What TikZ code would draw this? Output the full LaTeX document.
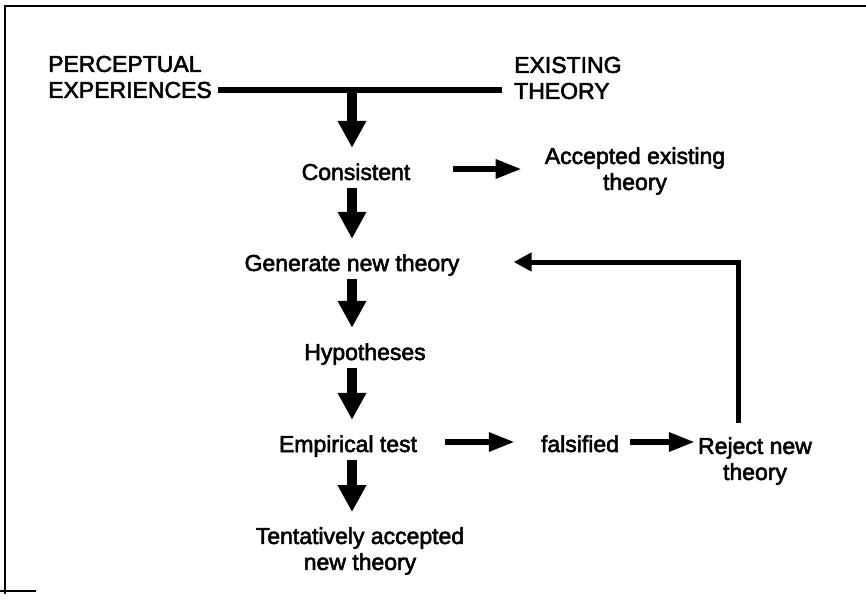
\documentclass[tikz,border=0pt]{standalone}
\usepackage{fontspec}
\setmainfont{Liberation Sans}[FakeBold=2.5]
\usetikzlibrary{arrows.meta}

\begin{document}
\begin{tikzpicture}[x=1pt, y=-1pt,
    lbl/.style={font=\fontsize{23}{26}\selectfont, inner sep=0pt, text height=17pt, text depth=5pt},
    lbl2/.style={font=\fontsize{23}{26}\selectfont, inner sep=0pt, align=center},
    dnarrow/.style={-{Triangle[length=27pt, width=27pt]}, line width=10pt, shorten <=3pt, shorten >=15pt},
    rtarrow/.style={-{Triangle[length=26pt, width=18pt]}, line width=6pt},
    backarrow/.style={-{Triangle[length=18pt, width=18pt]}, line width=5pt}]
    \useasboundingbox (0,0) rectangle (866,599);
    \draw[line width=2pt] (5,594) -- (5,6) -- (866,6);
    \draw[line width=1.5pt] (0,591) -- (36,591);

    \node[lbl2, anchor=west, align=left] (percep) at (48,77) {PERCEPTUAL\\EXPERIENCES};
    \node[lbl2, anchor=west, align=left] (exist) at (514,78) {EXISTING\\THEORY};
    \coordinate (barL) at (218,90);
    \coordinate (barR) at (502,90);
    \coordinate (barM) at (352,90);
    \node[lbl] (consist) at (356,174) {Consistent};
    \node[lbl2] (accept) at (635,171) {Accepted existing\\theory};
    \node[lbl] (gen) at (352,265) {Generate new theory};
    \node[lbl] (hyp) at (365,354) {Hypotheses};
    \node[lbl] (emp) at (348,446) {Empirical test};
    \node[lbl] (fals) at (580,446) {falsified};
    \node[lbl2] (reject) at (755,461) {Reject new\\theory};
    \node[lbl2] (tent) at (360,551) {Tentatively accepted\\new theory};

    \draw[line width=6pt] (barL) -- (barR);
    \draw[dnarrow] (barM) -- (consist.north -| barM);
    \draw[dnarrow] (consist.south -| barM) -- (gen.north -| barM);
    \draw[dnarrow] (gen.south -| barM) -- (hyp.north -| barM);
    \draw[dnarrow] (hyp.south -| barM) -- (emp.north -| barM);
    \draw[dnarrow] (emp.south -| barM) -- (tent.north -| barM);
    \draw[rtarrow, shorten <=42pt, shorten >=23pt] ([yshift=5pt]consist.east) -- ([yshift=5pt]consist.east -| accept.west);
    \draw[rtarrow, shorten <=28pt, shorten >=26pt] ([yshift=4pt]emp.east) -- ([yshift=4pt]fals.west);
    \draw[rtarrow, shorten <=11pt, shorten >=3pt] ([yshift=4pt]fals.east) -- ([yshift=4pt]fals.east -| reject.west);
    \draw[backarrow, shorten <=14pt, shorten >=54pt] ([xshift=-17pt]reject.north) |- ([yshift=3pt]gen.east);
\end{tikzpicture}
\end{document}
